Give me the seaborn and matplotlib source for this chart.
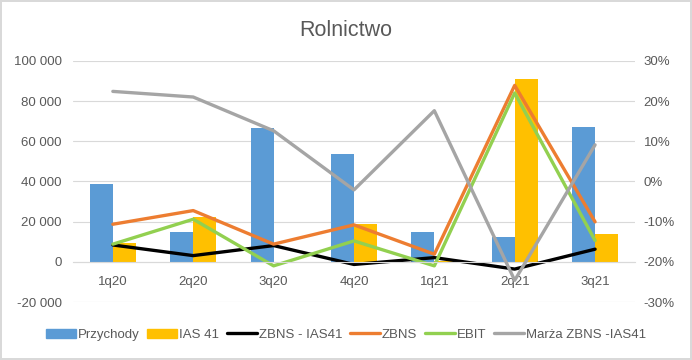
import matplotlib
matplotlib.use("Agg")
import matplotlib.pyplot as plt
import matplotlib.ticker as mticker
from matplotlib.patches import Patch
from matplotlib.lines import Line2D
import numpy as np
import pandas as pd
import seaborn as sns

# Data
quarters = ["1q20", "2q20", "3q20", "4q20", "1q21", "2q21", "3q21"]
przychody = [38800, 15000, 66500, 53600, 14600, 12400, 67000]
ias41 = [9400, 22200, 0, 19000, 500, 90800, 13900]
zbns_ias41 = [8400, 3100, 8100, -1300, 2100, -3600, 6300]
zbns = [18700, 25500, 8800, 18400, 3800, 87800, 19900]
ebit = [8800, 21200, -2000, 10400, -2000, 84000, 10600]
marza = [0.224, 0.210, 0.126, -0.021, 0.176, -0.246, 0.091]

blue, yellow = "#5B9BD5", "#FFC000"
orange, green, grey = "#ED7D31", "#92D050", "#A5A5A5"
text_col = "#595959"

sns.set_style("white")
plt.rcParams["font.family"] = ["Liberation Sans", "DejaVu Sans"]

bars = pd.DataFrame({
    "quarter": quarters * 2,
    "series": ["Przychody"] * len(quarters) + ["IAS 41"] * len(quarters),
    "value": przychody + ias41,
})

fig = plt.figure(figsize=(6.92, 3.6), dpi=100)
fig.patch.set_edgecolor("#D9D9D9")
fig.patch.set_linewidth(1.5)
ax = fig.add_axes([0.105, 0.161, 0.813, 0.670])

sns.barplot(data=bars, x="quarter", y="value", hue="series", order=quarters,
            palette=[blue, yellow], width=0.57, saturation=1, linewidth=0,
            legend=False, ax=ax)

pos = np.arange(len(quarters))
for vals, col in [(zbns_ias41, "black"), (zbns, orange), (ebit, green)]:
    sns.lineplot(x=pos, y=vals, color=col, linewidth=2.4, sort=False, ax=ax)

ax.set_ylim(-20000, 100000)
ax.set_xlim(-0.5, len(quarters) - 0.5)
ax.yaxis.set_major_locator(mticker.MultipleLocator(20000))
ax.yaxis.set_major_formatter(
    mticker.FuncFormatter(lambda v, _: f"{int(v):,}".replace(",", " ")))
ax.set_xlabel("")
ax.set_ylabel("")
ax.grid(axis="y", color="#D9D9D9", linewidth=0.8)
ax.set_axisbelow(True)
for s in ["top", "left", "right"]:
    ax.spines[s].set_visible(False)
ax.spines["bottom"].set_position(("data", 0))
ax.spines["bottom"].set_color("#D9D9D9")
ax.tick_params(axis="both", length=0, labelsize=9.5, labelcolor=text_col)
ax.tick_params(axis="x", pad=10)
ax.tick_params(axis="y", pad=8)

# Secondary axis: margin
ax2 = ax.twinx()
sns.lineplot(x=pos, y=marza, color=grey, linewidth=2.4, sort=False, ax=ax2)
ax2.set_ylim(-0.3, 0.3)
ax2.yaxis.set_major_locator(mticker.MultipleLocator(0.1))
ax2.yaxis.set_major_formatter(mticker.FuncFormatter(lambda v, _: f"{v:.0%}"))
ax2.set_ylabel("")
for s in ax2.spines.values():
    s.set_visible(False)
ax2.tick_params(axis="y", length=0, labelsize=9.5, labelcolor=text_col, pad=6)

fig.suptitle("Rolnictwo", x=0.5, y=0.945, fontsize=15.5, color=text_col)

handles = [
    Patch(color=blue, label="Przychody"),
    Patch(color=yellow, label="IAS 41"),
    Line2D([], [], color="black", lw=2.4, label="ZBNS - IAS41"),
    Line2D([], [], color=orange, lw=2.4, label="ZBNS"),
    Line2D([], [], color=green, lw=2.4, label="EBIT"),
    Line2D([], [], color=grey, lw=2.4, label="Marża ZBNS -IAS41"),
]
leg = fig.legend(handles=handles, loc="center", bbox_to_anchor=(0.5, 0.07),
                 ncol=6, frameon=False, fontsize=9.5, handlelength=2.3,
                 handleheight=0.7, handletextpad=0.15, columnspacing=0.55)
for t in leg.get_texts():
    t.set_color(text_col)

fig.savefig("out.png", dpi=100, facecolor="white",
            edgecolor=fig.get_edgecolor())
